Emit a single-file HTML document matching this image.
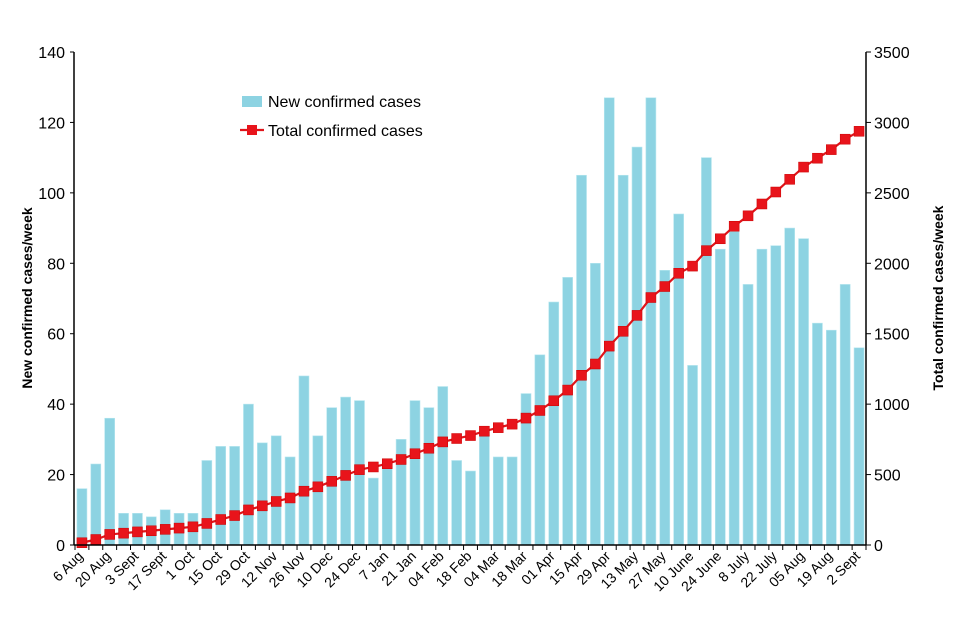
<!DOCTYPE html>
<html><head><meta charset="utf-8"><style>
html,body{margin:0;padding:0;background:#fff;}
svg{display:block;font-family:"Liberation Sans",Arial,sans-serif;}
</style></head><body>
<svg id="chart" width="960" height="640"></svg>
<script>
const categories=["6 Aug","13 Aug","20 Aug","27 Aug","3 Sept","10 Sept","17 Sept","24 Sept","1 Oct","8 Oct","15 Oct","22 Oct","29 Oct","5 Nov","12 Nov","19 Nov","26 Nov","3 Dec","10 Dec","17 Dec","24 Dec","31 Dec","7 Jan","14 Jan","21 Jan","28 Jan","04 Feb","11 Feb","18 Feb","25 Feb","04 Mar","11 Mar","18 Mar","25 Mar","01 Apr","08 Apr","15 Apr","22 Apr","29 Apr","06 May","13 May","20 May","27 May","03 June","10 June","17 June","24 June","1 July","8 July","15 July","22 July","29 July","05 Aug","12 Aug","19 Aug","26 Aug","2 Sept"];
const newCases=[16,23,36,9,9,8,10,9,9,24,28,28,40,29,31,25,48,31,39,42,41,19,23,30,41,39,45,24,21,31,25,25,43,54,69,76,105,80,127,105,113,127,78,94,51,110,84,89,74,84,85,90,87,63,61,74,56];
const totalCases=[16,39,75,84,93,101,111,120,129,153,181,209,249,278,309,334,382,413,452,494,535,554,577,607,648,687,732,756,777,808,833,858,901,955,1024,1100,1205,1285,1412,1517,1630,1757,1835,1929,1980,2090,2174,2263,2337,2421,2506,2596,2683,2746,2807,2881,2937];
const leftTicks=[0,20,40,60,80,100,120,140];
const rightTicks=[0,500,1000,1500,2000,2500,3000,3500];

const NS="http://www.w3.org/2000/svg";
const svg=document.getElementById('chart');
const X0=75,X1=866,Y0=545,Y1=52;
const n=categories.length, slot=(X1-X0)/n;
const xc=i=>X0+slot*(i+0.5);
const yL=v=>Y0-(v/140)*(Y0-Y1);
const yR=v=>Y0-(v/3500)*(Y0-Y1);
function mk(tag,attrs,parent){const e=document.createElementNS(NS,tag);for(const k in attrs)e.setAttribute(k,attrs[k]);(parent||svg).appendChild(e);return e;}

const gb=mk('g',{});


newCases.forEach((v,i)=>{
  const r=mk('rect',{x:xc(i)-5,y:yL(v),width:10,height:Y0-yL(v),fill:'#8dd3e2',stroke:'#b6e6ef','stroke-width':0.6},gb);
  
  
});
const pts=totalCases.map((v,i)=>xc(i)+','+yR(v)).join(' ');
const pl=mk('polyline',{points:pts,fill:'none',stroke:'#e0151b','stroke-width':2.2});


totalCases.forEach((v,i)=>{
  const m=mk('rect',{x:xc(i)-5,y:yR(v)-5,width:10,height:10,fill:'#e8141b',stroke:'#c00','stroke-width':0.5});
  
  
});
const la=mk('line',{x1:X0-1,y1:Y1,x2:X0-1,y2:Y0,stroke:'#000','stroke-width':1.5});

const ra=mk('line',{x1:X1,y1:Y1,x2:X1,y2:Y0,stroke:'#000','stroke-width':1.5});

const xa=mk('line',{x1:X0-1,y1:Y0,x2:X1,y2:Y0,stroke:'#000','stroke-width':1.5});

leftTicks.forEach(t=>{
  mk('line',{x1:X0-5,y1:yL(t),x2:X0-1,y2:yL(t),stroke:'#000'});
  const tx=mk('text',{x:X0-10,y:yL(t)+6,'text-anchor':'end','font-size':16,fill:'#000'});
  tx.textContent=t;
  
  
});
rightTicks.forEach(t=>{
  mk('line',{x1:X1,y1:yR(t),x2:X1+5,y2:yR(t),stroke:'#000'});
  const tx=mk('text',{x:X1+8,y:yR(t)+6,'text-anchor':'start','font-size':16,fill:'#000'});
  tx.textContent=t;
  
  
});
for(let i=0;i<=n;i++){mk('line',{x1:X0+slot*i,y1:Y0,x2:X0+slot*i,y2:Y0+5,stroke:'#000'});}
categories.forEach((c,i)=>{
  if(i%2) return;
  const x=xc(i)+2,y=Y0+12;
  const tx=mk('text',{x:x,y:y,'text-anchor':'end','font-size':14,fill:'#000',transform:`rotate(-45 ${x} ${y})`});
  tx.textContent=c;
  
  
});
const lt=mk('text',{x:32,y:298,'text-anchor':'middle','font-size':14,'font-weight':'bold',transform:'rotate(-90 32 298)'});
lt.textContent='New confirmed cases/week';

const rt=mk('text',{x:943,y:298,'text-anchor':'middle','font-size':14,'font-weight':'bold',transform:'rotate(-90 943 298)'});
rt.textContent='Total confirmed cases/week';

const lg=mk('g',{});

mk('rect',{x:242,y:96,width:20,height:11,fill:'#8dd3e2'},lg);
const l1=mk('text',{x:268,y:107,'font-size':16},lg);l1.textContent='New confirmed cases';

mk('line',{x1:240,y1:130,x2:264,y2:130,stroke:'#e0151b','stroke-width':2.2},lg);
mk('rect',{x:247,y:125,width:10,height:10,fill:'#e8141b'},lg);
const l2=mk('text',{x:268,y:136,'font-size':16},lg);l2.textContent='Total confirmed cases';

</script>
</body></html>
